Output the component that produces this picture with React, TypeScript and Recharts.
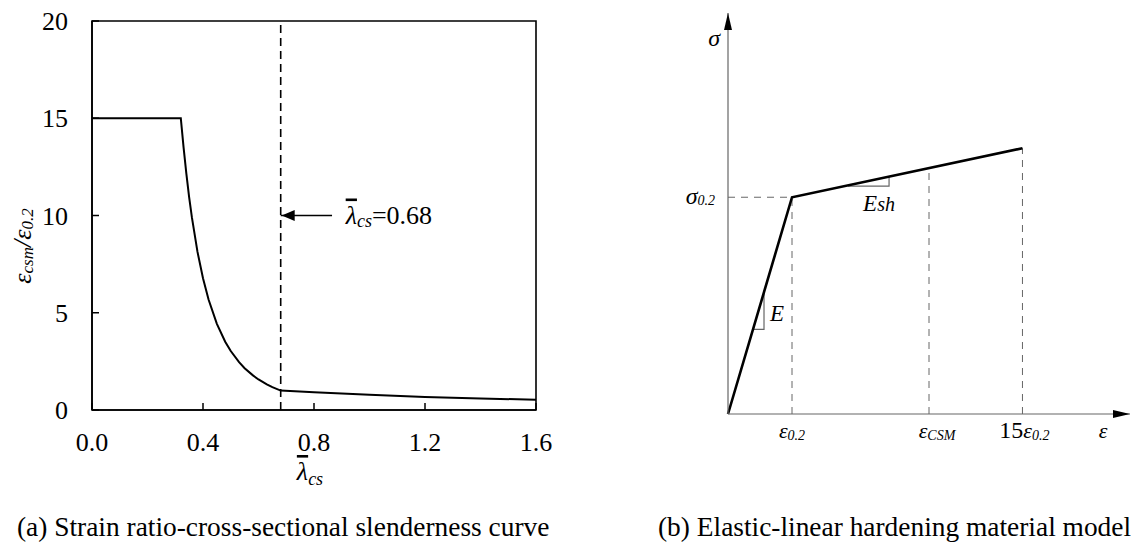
import React from "react";
import {
  ComposedChart,
  Line,
  Scatter,
  XAxis,
  YAxis,
  ReferenceLine,
  ReferenceArea
} from "recharts";

const FONT = "'Liberation Serif', 'Times New Roman', serif";

// (a) strain ratio vs cross-sectional slenderness
const slenderness = [
  0, 0.32, 0.33, 0.34, 0.35, 0.36, 0.38, 0.4, 0.42, 0.45, 0.48, 0.5, 0.53,
  0.55, 0.58, 0.6, 0.63, 0.65, 0.68, 0.8, 1.0, 1.2, 1.4, 1.6
];
const strainRatio = [
  15, 15, 13.5, 12.15, 10.95, 9.9, 8.14, 6.77, 5.68, 4.43, 3.51, 3.03, 2.46,
  2.15, 1.78, 1.57, 1.32, 1.18, 1.0, 0.91, 0.78, 0.67, 0.59, 0.53
];
const slendernessTicks = [0, 0.4, 0.8, 1.2, 1.6];
const ratioTicks = [0, 5, 10, 15, 20];
const limitSlenderness = 0.68;
const arrowLevel = 10;
const arrowTail = 0.865;

// (b) elastic-linear hardening model (schematic units)
const modelStrain = [0, 1, 4.6];
const modelStress = [0, 1, 1.226];
const csmStrain = 3.14;
const csmStress = 1.134;
const strainAxisEnd = 6.28;
const stressAxisEnd = 1.85;
const strainTicks = [1, 3.14, 4.6, 5.86];
const strainTickLabels = [
  { pre: "", sym: "ε", sub: "0.2" },
  { pre: "", sym: "ε", sub: "CSM" },
  { pre: "15", sym: "ε", sub: "0.2" },
  { pre: "", sym: "ε", sub: "" }
];
const stressTicks = [1, 1.73];
const stressTickLabels = [
  { sym: "σ", sub: "0.2" },
  { sym: "σ", sub: "" }
];
const eTriangleX = [0.39, 0.5625, 0.5625];
const eTriangleY = [0.39, 0.39, 0.5625];
const eshTriangleX = [1.875, 2.516, 2.516];
const eshTriangleY = [1.051, 1.051, 1.095];

const curveData = slenderness.map((x, i) => ({ x, y: strainRatio[i] }));
const modelData = modelStrain.map((x, i) => ({ x, y: modelStress[i] }));
const eTriangle = eTriangleX.map((x, i) => ({ x, y: eTriangleY[i] }));
const eshTriangle = eshTriangleX.map((x, i) => ({ x, y: eshTriangleY[i] }));

function RatioLabel() {
  const cx = 22;
  const cy = 246;
  return (
    <text
      x={cx}
      y={cy}
      transform={`rotate(-90 ${cx} ${cy})`}
      textAnchor="middle"
      dominantBaseline="central"
      fontFamily={FONT}
      fontSize={26}
      fontStyle="italic"
      fill="#000"
    >
      ε<tspan fontSize={17} dy={5}>csm</tspan>
      <tspan dy={-5}>/ε</tspan>
      <tspan fontSize={17} dy={5}>0.2</tspan>
    </text>
  );
}

function SlendernessLabel() {
  return (
    <text x={310} y={480} textAnchor="middle" fontFamily={FONT} fontSize={26} fill="#000">
      <tspan fontStyle="italic" style={{ textDecoration: "overline" }}>λ</tspan>
      <tspan fontSize={18} fontStyle="italic" dy={5}>cs</tspan>
    </text>
  );
}

function ArrowTag(props: any) {
  const { cx, cy } = props;
  return (
    <g>
      <polygon
        points={`${cx + 1},${cy} ${cx + 14},${cy - 5.5} ${cx + 14},${cy + 5.5}`}
        fill="#000"
      />
      <text x={cx + 65} y={cy + 8} fontFamily={FONT} fontSize={26} fill="#000">
        <tspan fontStyle="italic" style={{ textDecoration: "overline" }}>λ</tspan>
        <tspan fontSize={18} fontStyle="italic" dy={3}>cs</tspan>
        <tspan dy={-3}>=0.68</tspan>
      </text>
    </g>
  );
}

function PanelA() {
  return (
    <div style={{ position: "absolute", left: 0, top: 0 }}>
      <ComposedChart
        width={560}
        height={490}
        margin={{ top: 21, right: 24, bottom: 0, left: 0 }}
      >
        <XAxis
          type="number"
          dataKey="x"
          domain={[0, 1.6]}
          ticks={slendernessTicks}
          interval={0}
          tickFormatter={(v: number) => v.toFixed(1)}
          height={80}
          tickSize={-7}
          tickMargin={30}
          axisLine={{ stroke: "#000", strokeWidth: 1.6 }}
          tickLine={{ stroke: "#000", strokeWidth: 1.5 }}
          tick={{ fill: "#000", fontSize: 26, fontFamily: FONT }}
          label={{ content: SlendernessLabel }}
        />
        <YAxis
          type="number"
          dataKey="y"
          domain={[0, 20]}
          ticks={ratioTicks}
          interval={0}
          width={92}
          tickSize={-7}
          tickMargin={31}
          axisLine={{ stroke: "#000", strokeWidth: 1.6 }}
          tickLine={{ stroke: "#000", strokeWidth: 1.5 }}
          tick={{ fill: "#000", fontSize: 26, fontFamily: FONT }}
          label={{ content: RatioLabel }}
        />
        <ReferenceArea
          x1={0}
          x2={1.6}
          y1={0}
          y2={20}
          fill="none"
          stroke="#000"
          strokeWidth={1.6}
        />
        <ReferenceLine
          x={limitSlenderness}
          stroke="#000"
          strokeWidth={1.6}
          strokeDasharray="8 5"
        />
        <Line
          data={curveData}
          dataKey="y"
          type="linear"
          stroke="#000"
          strokeWidth={2}
          dot={false}
          isAnimationActive={false}
        />
        <ReferenceLine
          segment={[
            { x: limitSlenderness, y: arrowLevel },
            { x: arrowTail, y: arrowLevel }
          ]}
          stroke="#000"
          strokeWidth={1.5}
        />
        <Scatter
          data={[{ x: limitSlenderness, y: arrowLevel }]}
          shape={ArrowTag}
          isAnimationActive={false}
        />
      </ComposedChart>
    </div>
  );
}

function StrainTick(props: any) {
  const { x, y, index } = props;
  const lab = strainTickLabels[index];
  if (!lab) return null;
  const dx = index === 1 ? 8 : index === 2 ? 2 : 0;
  return (
    <text
      x={x + dx}
      y={y + 24}
      textAnchor="middle"
      fontFamily={FONT}
      fill="#000"
      fontSize={22}
    >
      {lab.pre ? <tspan fontSize={24}>{lab.pre}</tspan> : null}
      <tspan fontStyle="italic">{lab.sym}</tspan>
      {lab.sub ? (
        <tspan fontStyle="italic" fontSize={14} dy={2}>{lab.sub}</tspan>
      ) : null}
    </text>
  );
}

function StressTick(props: any) {
  const { x, y, index } = props;
  const lab = stressTickLabels[index];
  if (!lab) return null;
  return (
    <text
      x={x - (lab.sub ? 13 : 8)}
      y={y + 7}
      textAnchor="end"
      fontFamily={FONT}
      fill="#000"
      fontSize={24}
      fontStyle="italic"
    >
      {lab.sym}
      {lab.sub ? (
        <tspan fontSize={14} dy={1}>{lab.sub}</tspan>
      ) : null}
    </text>
  );
}

function UpArrow(props: any) {
  const { cx, cy } = props;
  return (
    <polygon
      points={`${cx},${cy} ${cx - 4},${cy + 17} ${cx + 4},${cy + 17}`}
      fill="#000"
    />
  );
}

function RightArrow(props: any) {
  const { cx, cy } = props;
  return (
    <polygon
      points={`${cx},${cy} ${cx - 17},${cy - 4} ${cx - 17},${cy + 4}`}
      fill="#000"
    />
  );
}

function ModulusLabel(props: any) {
  const { cx, cy, payload } = props;
  return (
    <text x={cx} y={cy + 8} fontFamily={FONT} fontSize={23} fontStyle="italic" fill="#000">
      E{payload.sub ? <tspan fontSize={20}>{payload.sub}</tspan> : null}
    </text>
  );
}

function PanelB() {
  const dash = "7 6";
  const grey = "#666";
  return (
    <div style={{ position: "absolute", left: 600, top: 0 }}>
      <ComposedChart
        width={531}
        height={470}
        margin={{ top: 13, right: 1, bottom: 0, left: 0 }}
      >
        <XAxis
          type="number"
          dataKey="x"
          domain={[0, strainAxisEnd]}
          ticks={strainTicks}
          interval={0}
          height={56}
          tickLine={false}
          tickSize={0}
          tickMargin={0}
          axisLine={{ stroke: grey, strokeWidth: 1.2 }}
          tick={StrainTick}
        />
        <YAxis
          type="number"
          dataKey="y"
          domain={[0, stressAxisEnd]}
          ticks={stressTicks}
          interval={0}
          width={128}
          tickLine={false}
          tickSize={0}
          tickMargin={0}
          axisLine={{ stroke: grey, strokeWidth: 1.2 }}
          tick={StressTick}
        />
        <ReferenceLine
          segment={[{ x: 0, y: modelStress[1] }, { x: modelStrain[1], y: modelStress[1] }]}
          stroke={grey}
          strokeDasharray={dash}
        />
        <ReferenceLine
          segment={[{ x: modelStrain[1], y: 0 }, { x: modelStrain[1], y: modelStress[1] }]}
          stroke={grey}
          strokeDasharray={dash}
        />
        <ReferenceLine
          segment={[{ x: csmStrain, y: 0 }, { x: csmStrain, y: csmStress }]}
          stroke={grey}
          strokeDasharray={dash}
        />
        <ReferenceLine
          segment={[{ x: modelStrain[2], y: 0 }, { x: modelStrain[2], y: modelStress[2] }]}
          stroke={grey}
          strokeDasharray={dash}
        />
        <Line
          data={eTriangle}
          dataKey="y"
          stroke={grey}
          strokeWidth={1.2}
          dot={false}
          isAnimationActive={false}
        />
        <Line
          data={eshTriangle}
          dataKey="y"
          stroke={grey}
          strokeWidth={1.2}
          dot={false}
          isAnimationActive={false}
        />
        <Line
          data={modelData}
          dataKey="y"
          stroke="#000"
          strokeWidth={2.6}
          dot={false}
          isAnimationActive={false}
        />
        <Scatter
          data={[{ x: 0, y: stressAxisEnd }]}
          shape={UpArrow}
          isAnimationActive={false}
        />
        <Scatter
          data={[{ x: strainAxisEnd, y: 0 }]}
          shape={RightArrow}
          isAnimationActive={false}
        />
        <Scatter
          data={[
            { x: 0.656, y: 0.465, sub: "" },
            { x: 2.11, y: 0.972, sub: "sh" }
          ]}
          shape={ModulusLabel}
          isAnimationActive={false}
        />
      </ComposedChart>
    </div>
  );
}

export default function App() {
  return (
    <div
      style={{
        position: "absolute",
        left: 0,
        top: 0,
        width: 1131,
        height: 543,
        overflow: "hidden",
        background: "#fff",
        fontFamily: FONT
      }}
    >
      <PanelA />
      <PanelB />
      <svg
        width={1131}
        height={543}
        style={{ position: "absolute", left: 0, top: 0, pointerEvents: "none" }}
      >
        <text x={17} y={536} fontFamily={FONT} fontSize={27.4} fill="#000">
          (a) Strain ratio-cross-sectional slenderness curve
        </text>
        <text x={658} y={536} fontFamily={FONT} fontSize={27.4} fill="#000">
          (b) Elastic-linear hardening material model
        </text>
      </svg>
    </div>
  );
}
